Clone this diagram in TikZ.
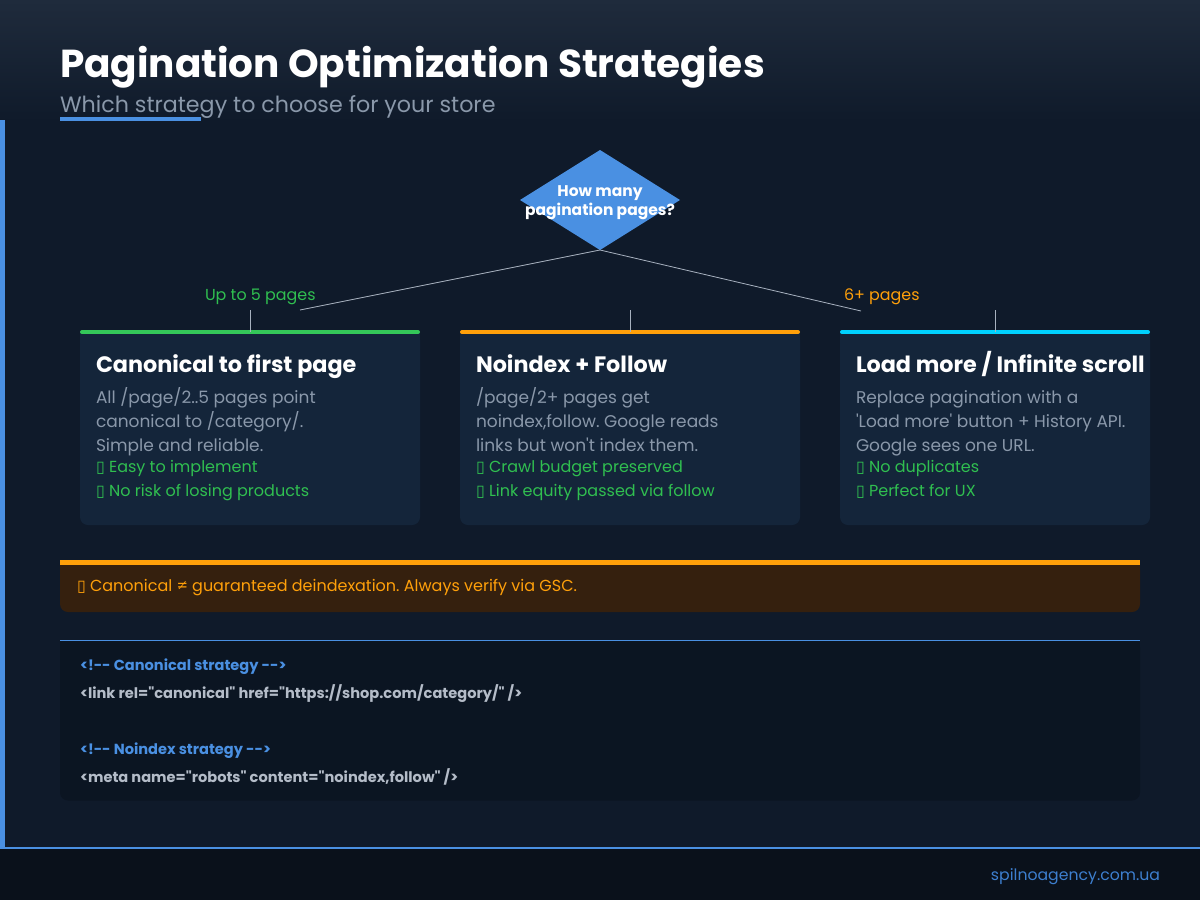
\documentclass[tikz,border=0pt]{standalone}
\usepackage{fontspec}
\setmainfont{Poppins}[Ligatures={TeXOff}]
\newfontfamily\symfont{DejaVu Sans}
\usetikzlibrary{shapes.geometric}
\frenchspacing
\definecolor{bgmain}{HTML}{0F1A2A}
\definecolor{hdtop}{HTML}{1F2B3C}
\definecolor{footbg}{HTML}{0A111B}
\definecolor{cardbg}{HTML}{14253A}
\definecolor{codebg}{HTML}{0B1522}
\definecolor{warnbg}{HTML}{35200E}
\definecolor{accblue}{HTML}{4A90E2}
\definecolor{accgreen}{HTML}{34C759}
\definecolor{txtgreen}{HTML}{30BF50}
\definecolor{accorange}{HTML}{FFA00A}
\definecolor{acccyan}{HTML}{00D2FF}
\definecolor{txtgray}{HTML}{8A98AA}
\definecolor{codegray}{HTML}{B4BCC8}
\definecolor{linegray}{HTML}{A8B2C0}
\definecolor{footblue}{HTML}{3D7FCF}
\newcommand\fsz[1]{\fontsize{#1}{#1}\selectfont}
\newcommand\tofu{{\symfont\char"25AF}}
\begin{document}
\begin{tikzpicture}[x=1pt,y=-1pt,
  every node/.style={inner sep=0pt,outer sep=0pt},
  txt/.style={anchor=base west},
  cardbox/.style={fill=cardbg,rounded corners=8pt,minimum width=#1,minimum height=193pt,anchor=north west},
  topbar/.style={line width=4pt,line cap=round},
  conn/.style={draw=linegray,line width=0.8pt},
  tick/.style={draw=linegray,line width=0.8pt},
  ctitle/.style={txt,text=white,font=\fsz{22.3}\bfseries},
  cbody/.style={txt,text=txtgray,font=\fsz{17}},
  cpro/.style={txt,text=txtgreen,font=\fsz{16}},
  dtext/.style={anchor=base,text=white,font=\fsz{15.5}\bfseries},
  code/.style={txt,font=\fsz{14.6}\bfseries}]
\useasboundingbox (0,0) rectangle (1200,900);
% background
\fill[bgmain] (0,0) rectangle (1200,900);
\shade[top color=hdtop,bottom color=bgmain] (0,0) rectangle (1200,122);
\fill[footbg] (0,848) rectangle (1200,900);
\draw[accblue,line width=1.5pt] (0,848) -- (1200,848);
\fill[accblue] (0,120) rectangle (5,848);
% header
\node[txt,text=white,font=\fsz{39}\bfseries] (title) at (60,77) {Pagination Optimization Strategies};
\node[txt,text=txtgray,font=\fsz{22.2}] (subtitle) at (60,112) {Which strategy to choose for your store};
\fill[accblue] (60,116.5) rectangle (201,120.5);
% decision
\node[diamond,fill=accblue,minimum width=160pt,minimum height=100pt] (dia) at (600,200) {};
\node[dtext] (diat1) at (600,196) {How many};
\node[dtext] (diat2) at (600,215) {pagination pages?};
\coordinate (lend) at (300,310);
\coordinate (rend) at (861,311);
\draw[conn] (dia.south) -- (lend);
\draw[conn] (dia.south) -- (rend);
\node[txt,text=txtgreen,font=\fsz{15.9}] (lbl1) at (205,300.5) {Up to 5 pages};
\node[txt,text=accorange,font=\fsz{15.9}] (lbl2) at (844,300.5) {6+ pages};
% cards
\node[cardbox=340pt] (card1) at (80,332) {};
\node[cardbox=340pt] (card2) at (460,332) {};
\node[cardbox=310pt] (card3) at (840,332) {};
\fill[cardbg] (80,332) rectangle (420,345);
\fill[cardbg] (460,332) rectangle (800,345);
\fill[cardbg] (840,332) rectangle (1150,345);
\draw[topbar,accgreen] (82,332) -- (418,332);
\draw[topbar,accorange] (462,332) -- (798,332);
\draw[topbar,acccyan] (842,332) -- (1148,332);
\coordinate (t1) at (250,310);
\coordinate (t2) at (630,310);
\coordinate (t3) at (995,310);
\draw[tick] (t1) -- (card1.north);
\draw[tick] (t2) -- (card2.north);
\draw[tick] (t3) -- (card3.north);
% card 1
\node[ctitle] (c1t) at (96,372) {Canonical to first page};
\node[cbody] (c1a) at (96,403) {All /page/2..5 pages point};
\node[cbody] (c1b) at (96,427) {canonical to /category/.};
\node[cbody] (c1c) at (96,451) {Simple and reliable.};
\node[cpro] (c1p) at (96,472.5) {\tofu\ Easy to implement};
\node[cpro] (c1q) at (96,496) {\tofu\ No risk of losing products};
% card 2
\node[ctitle] (c2t) at (476,372) {Noindex + Follow};
\node[cbody] (c2a) at (476,403) {/page/2+ pages get};
\node[cbody] (c2b) at (476,427) {noindex,follow. Google reads};
\node[cbody] (c2c) at (476,451) {links but won't index them.};
\node[cpro] (c2p) at (476,472.5) {\tofu\ Crawl budget preserved};
\node[cpro] (c2q) at (476,496) {\tofu\ Link equity passed via follow};
% card 3
\node[ctitle] (c3t) at (856,372) {Load more / Infinite scroll};
\node[cbody] (c3a) at (856,403) {Replace pagination with a};
\node[cbody] (c3b) at (856,427) {'Load more' button + History API.};
\node[cbody] (c3c) at (856,451) {Google sees one URL.};
\node[cpro] (c3p) at (856,472.5) {\tofu\ No duplicates};
\node[cpro] (c3q) at (856,496) {\tofu\ Perfect for UX};
% warning
\fill[warnbg,rounded corners=8pt] (60,562) rectangle (1140,612);
\fill[warnbg] (60,562) rectangle (1140,575);
\fill[accorange] (60,560) rectangle (1140,564.5);
\node[txt,text=accorange,font=\fsz{16}] (warn) at (77,591.5) {\tofu\ Canonical ≠ guaranteed deindexation. Always verify via GSC.};
% code
\fill[codebg,rounded corners=8pt] (60,640) rectangle (1140,800.5);
\fill[codebg] (60,640) rectangle (1140,660);
\draw[accblue,line width=1pt] (60,640) -- (1140,640);
\node[code,text=accblue] (k1) at (80,670.5) {<!-- Canonical strategy -->};
\node[code,text=codegray] (k2) at (80,698) {<link rel="canonical" href="https://shop.com/category/" />};
\node[code,text=accblue] (k3) at (80,754) {<!-- Noindex strategy -->};
\node[code,text=codegray] (k4) at (80,782) {<meta name="robots" content="noindex,follow" />};
% footer
\node[anchor=base east,text=footblue,font=\fsz{15.7}] (foot) at (1160,880) {spilnoagency.com.ua};
\end{tikzpicture}
\end{document}
